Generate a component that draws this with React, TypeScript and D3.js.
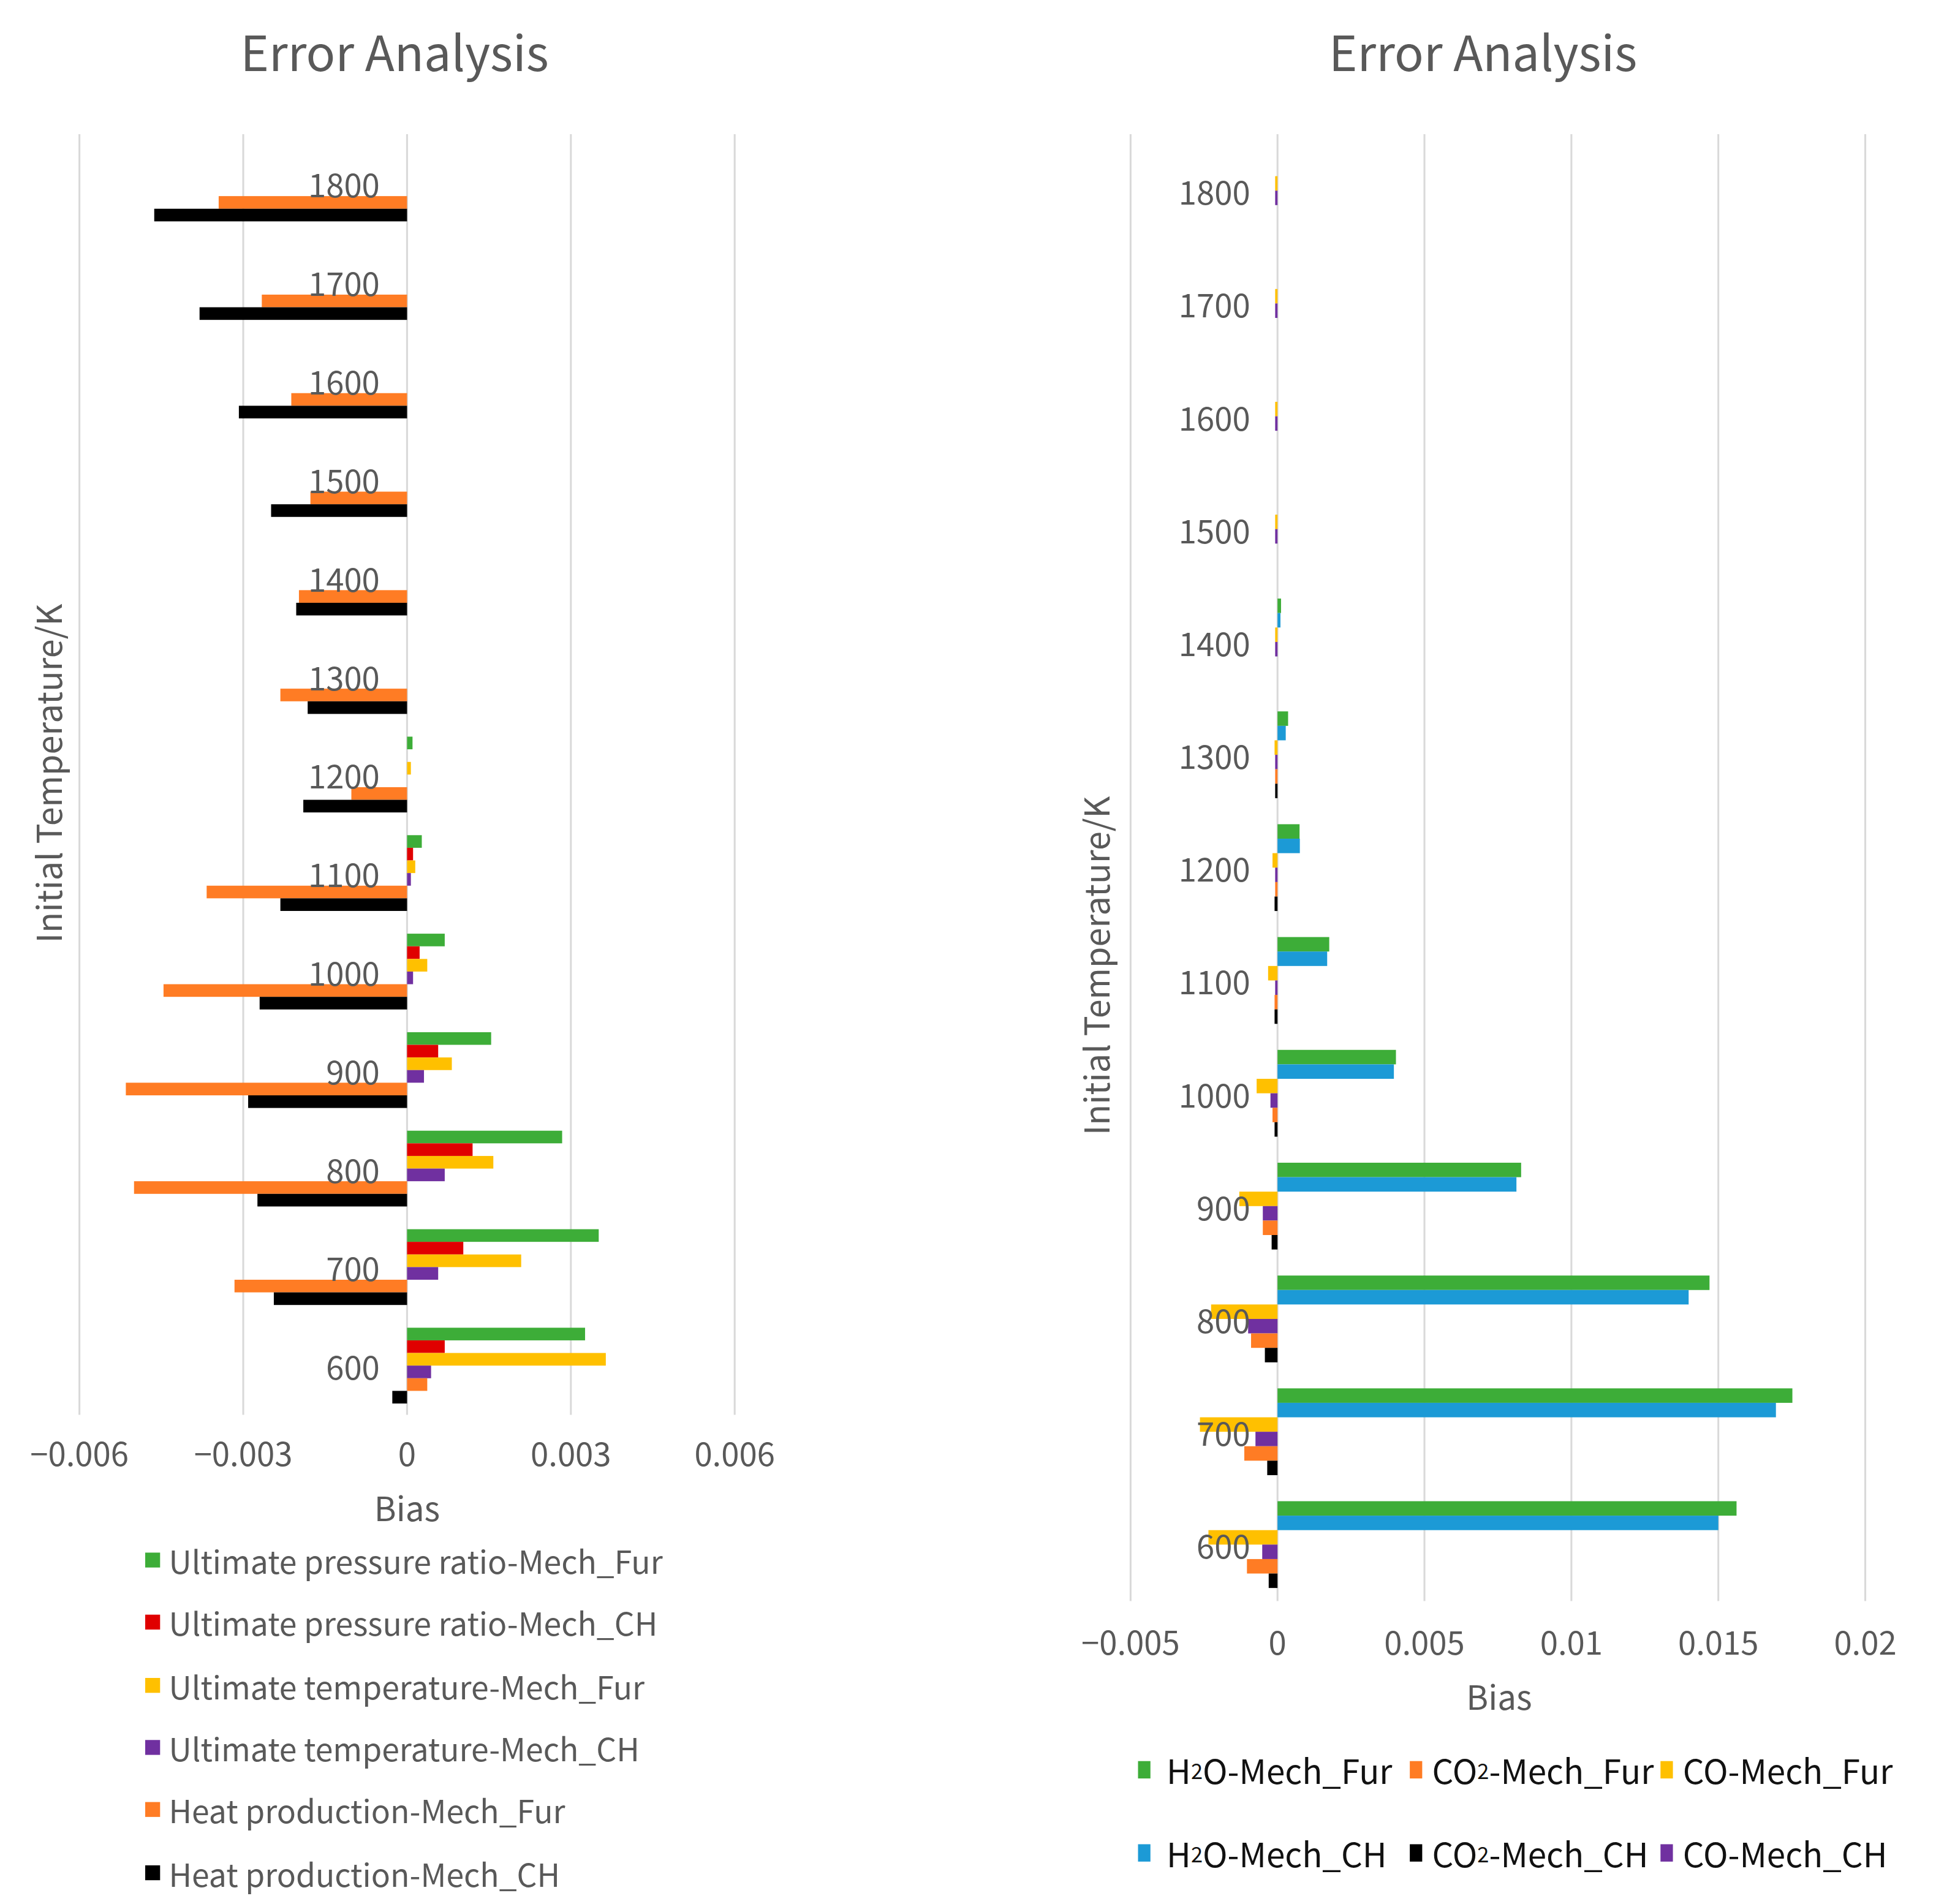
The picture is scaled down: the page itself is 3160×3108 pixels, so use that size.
import * as d3 from "d3";

// categories (top of chart = 1800)
const temps = ["1800", "1700", "1600", "1500", "1400", "1300", "1200", "1100", "1000", "900", "800", "700", "600"];

// left chart series, ordered like temps
const pressureFur = [0, 0, 0, 0, 0, 0, 0.0001, 0.00027, 0.00069, 0.00154, 0.00284, 0.00351, 0.00326];
const pressureCH = [0, 0, 0, 0, 0, 0, 0, 0.00011, 0.00023, 0.00057, 0.0012, 0.00103, 0.00069];
const tempFur = [0, 0, 0, 0, 0, 0, 0.00007, 0.00015, 0.00037, 0.00082, 0.00158, 0.00209, 0.00364];
const tempCH = [0, 0, 0, 0, 0, 0, 0, 0.00007, 0.00011, 0.00031, 0.00069, 0.00057, 0.00044];
const heatFur = [-0.00345, -0.00266, -0.00212, -0.00177, -0.00198, -0.00232, -0.00102, -0.00367, -0.00446, -0.00515, -0.005, -0.00316, 0.00037];
const heatCH = [-0.00463, -0.0038, -0.00308, -0.00249, -0.00203, -0.00182, -0.0019, -0.00232, -0.0027, -0.00291, -0.00274, -0.00244, -0.00027];

// right chart series
const h2oFur = [0, 0, 0, 0, 0.00012, 0.00036, 0.00075, 0.00176, 0.00403, 0.00829, 0.0147, 0.01752, 0.01562];
const h2oCH = [0, 0, 0, 0, 0.0001, 0.00028, 0.00076, 0.00169, 0.00396, 0.00813, 0.01399, 0.01696, 0.015];
const coFur = [-0.00008, -0.00008, -0.00008, -0.00008, -0.00008, -0.0001, -0.00017, -0.00032, -0.00071, -0.0013, -0.00226, -0.00264, -0.00235];
const coCH = [-0.00008, -0.00008, -0.00008, -0.00008, -0.00008, -0.00008, -0.00008, -0.00008, -0.00024, -0.0005, -0.001, -0.00075, -0.00052];
const co2Fur = [0, 0, 0, 0, 0, -0.00008, -0.00008, -0.0001, -0.00017, -0.0005, -0.0009, -0.00113, -0.00104];
const co2CH = [0, 0, 0, 0, 0, -0.00008, -0.0001, -0.0001, -0.0001, -0.0002, -0.00043, -0.00035, -0.0003];

const leftTicks = [-0.006, -0.003, 0, 0.003, 0.006];
const leftTickLabels = ["−0.006", "−0.003", "0", "0.003", "0.006"];
const rightTicks = [-0.005, 0, 0.005, 0.01, 0.015, 0.02];
const rightTickLabels = ["−0.005", "0", "0.005", "0.01", "0.015", "0.02"];

const GREEN = "#3DAD38";
const RED = "#E00000";
const YELLOW = "#FFC000";
const PURPLE = "#7030A0";
const ORANGE = "#FF7C24";
const BLACK = "#000000";
const BLUE = "#1C9AD6";

const leftSeries = [
  { name: "Ultimate pressure ratio-Mech_Fur", color: GREEN, values: pressureFur },
  { name: "Ultimate pressure ratio-Mech_CH", color: RED, values: pressureCH },
  { name: "Ultimate temperature-Mech_Fur", color: YELLOW, values: tempFur },
  { name: "Ultimate temperature-Mech_CH", color: PURPLE, values: tempCH },
  { name: "Heat production-Mech_Fur", color: ORANGE, values: heatFur },
  { name: "Heat production-Mech_CH", color: BLACK, values: heatCH },
];

// bar order inside each band (top to bottom)
const rightSeries = [
  { key: "h2oFur", color: GREEN, values: h2oFur },
  { key: "h2oCH", color: BLUE, values: h2oCH },
  { key: "coFur", color: YELLOW, values: coFur },
  { key: "coCH", color: PURPLE, values: coCH },
  { key: "co2Fur", color: ORANGE, values: co2Fur },
  { key: "co2CH", color: BLACK, values: co2CH },
];

// legend layout: [prefix, subscript, suffix, color]
const rightLegend = [
  [["H", "2", "O-Mech_Fur", GREEN], ["CO", "2", "-Mech_Fur", ORANGE], ["CO", "", "-Mech_Fur", YELLOW]],
  [["H", "2", "O-Mech_CH", BLUE], ["CO", "2", "-Mech_CH", BLACK], ["CO", "", "-Mech_CH", PURPLE]],
] as [string, string, string, string][][];

const FONT = "'Noto Sans CJK SC', 'Noto Sans', sans-serif";
const GRAY = "#595959";
const GRID = "#d9d9d9";

type Series = { color: string; values: number[] };

function BarPanel({
  series, x, top, bottom, ticks, tickLabels, tickY, cx, titleX, biasY, axisTitleX, axisTitleY,
}: {
  series: Series[];
  x: d3.ScaleLinear<number, number>;
  top: number;
  bottom: number;
  ticks: number[];
  tickLabels: string[];
  tickY: number;
  cx: number;
  titleX: number;
  biasY: number;
  axisTitleX: number;
  axisTitleY: number;
}) {
  const y0 = d3.scaleBand<string>().domain(temps).range([top, bottom]).padding(0);
  const y1 = d3
    .scaleBand<number>()
    .domain(d3.range(series.length))
    .range([0, y0.bandwidth()])
    .paddingInner(0)
    .paddingOuter(0.9);
  const zero = x(0);
  return (
    <g fontFamily={FONT}>
      <text x={titleX} y={57} textAnchor="middle" fontSize={39} fill={GRAY}>
        Error Analysis
      </text>
      {ticks.map((t) => (
        <line key={t} x1={x(t)} x2={x(t)} y1={top} y2={bottom} stroke={GRID} strokeWidth={1.5} />
      ))}
      {temps.map((c, i) =>
        series.map((s, j) => {
          const v = s.values[i];
          if (v === 0) return null;
          const x0 = Math.min(x(v), zero);
          return (
            <rect
              key={c + "-" + j}
              x={x0}
              y={(y0(c) ?? 0) + (y1(j) ?? 0)}
              width={Math.abs(x(v) - zero)}
              height={y1.bandwidth()}
              fill={s.color}
            />
          );
        })
      )}
      {temps.map((c) => (
        <text
          key={c}
          x={zero - 22}
          y={(y0(c) ?? 0) + y0.bandwidth() / 2}
          textAnchor="end"
          dominantBaseline="central"
          fontSize={26}
          fill={GRAY}
        >
          {c}
        </text>
      ))}
      {ticks.map((t, i) => (
        <text key={t} x={x(t)} y={tickY} textAnchor="middle" dominantBaseline="central" fontSize={26} fill={GRAY}>
          {tickLabels[i]}
        </text>
      ))}
      <text x={cx} y={biasY} textAnchor="middle" dominantBaseline="central" fontSize={27} fill={GRAY}>
        Bias
      </text>
      <text
        transform={`translate(${axisTitleX},${axisTitleY}) rotate(-90)`}
        textAnchor="middle"
        dominantBaseline="central"
        fontSize={27.5}
        fill={GRAY}
      >
        Initial Temperature/K
      </text>
    </g>
  );
}

export default function App() {
  const xLeft = d3.scaleLinear().domain([-0.006, 0.006]).range([64, 592]);
  const xRight = d3.scaleLinear().domain([-0.005, 0.02]).range([911, 1503]);

  const legendRows = [1257, 1307, 1358, 1408, 1458, 1509];
  const rightRows = [1426, 1493];
  const rightMarkX = [917, 1136, 1338];
  const rightTextX = [940, 1154, 1356];

  return (
    <svg
      width={3160}
      height={3108}
      viewBox="0 0 1560 1534"
      style={{ position: "absolute", left: 0, top: 0, background: "#fff" }}
    >
      <rect width={1560} height={1534} fill="#fff" />
      <BarPanel
        series={leftSeries}
        x={xLeft}
        top={108}
        bottom={1140}
        ticks={leftTicks}
        tickLabels={leftTickLabels}
        tickY={1170}
        cx={328}
        titleX={318}
        biasY={1214}
        axisTitleX={38}
        axisTitleY={623}
      />
      <BarPanel
        series={rightSeries}
        x={xRight}
        top={108}
        bottom={1290}
        ticks={rightTicks}
        tickLabels={rightTickLabels}
        tickY={1322}
        cx={1208}
        titleX={1195}
        biasY={1366}
        axisTitleX={882}
        axisTitleY={778}
      />
      <g fontFamily={FONT}>
        {leftSeries.map((s, i) => (
          <g key={s.name}>
            <rect x={117} y={legendRows[i] - 6} width={12} height={12} fill={s.color} />
            <text x={136} y={legendRows[i]} dominantBaseline="central" fontSize={25.5} fill={GRAY}>
              {s.name}
            </text>
          </g>
        ))}
        {rightLegend.map((row, r) =>
          row.map(([pre, sub, post, color], c) => (
            <g key={r + "-" + c}>
              <rect x={rightMarkX[c]} y={rightRows[r] - 7} width={10} height={14} fill={color} />
              <text x={rightTextX[c]} y={rightRows[r]} dominantBaseline="central" fontSize={27} fill="#111">
                {pre}
                {sub && <tspan fontSize={17}>{sub}</tspan>}
                {post}
              </text>
            </g>
          ))
        )}
      </g>
    </svg>
  );
}
